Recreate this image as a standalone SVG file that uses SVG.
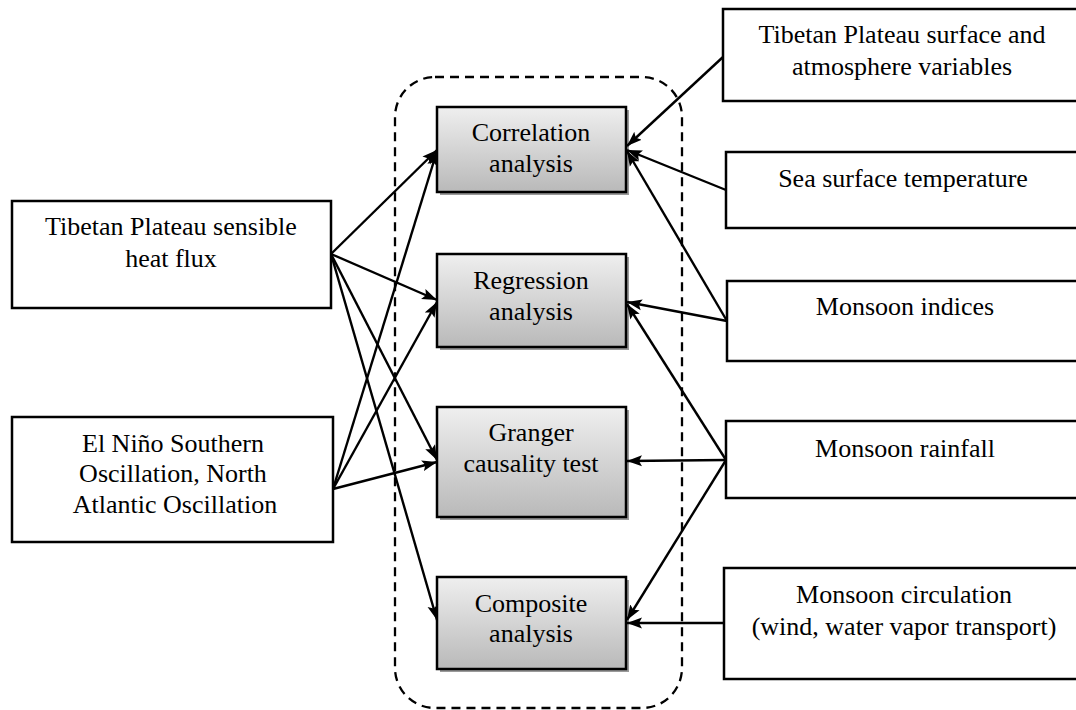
<svg xmlns="http://www.w3.org/2000/svg" width="1076" height="710" viewBox="0 0 1076 710">
  <defs>
    <linearGradient id="methodFill" x1="0" y1="0" x2="0" y2="1">
      <stop offset="0" stop-color="#efefef"/>
      <stop offset="1" stop-color="#b9b9b9"/>
    </linearGradient>
    <marker id="arrow" markerUnits="userSpaceOnUse" markerWidth="16" markerHeight="12" refX="15" refY="6" orient="auto">
      <path d="M0,0.5 L15,6 L0,11.5 L3,6 Z" fill="#000"/>
    </marker>
    <style>
      .box { fill: #fff; stroke: #000; stroke-width: 2.5; }
      .method { fill: url(#methodFill); stroke: #000; stroke-width: 2.5; }
      .shadow { fill: #9a9a9a; }
      .label { font-family: "Liberation Serif", "Tinos", "Noto Serif", "DejaVu Serif", serif; font-size: 26px; fill: #000; text-anchor: middle; }
      .frame { fill: none; stroke: #000; stroke-width: 2.3; stroke-dasharray: 9 6; }
      .link { stroke: #000; stroke-width: 2.4; fill: none; marker-end: url(#arrow); }
    </style>
  </defs>

  <rect width="1076" height="710" fill="#fff"/>

  <!-- dashed frame around the analysis methods -->
  <rect class="frame" x="395" y="77" width="287" height="631" rx="40" ry="40"/>

  <!-- input data, left side -->
  <g id="sensible-heat">
    <rect class="box" x="12" y="201" width="319" height="107"/>
    <text class="label" x="171" y="235">Tibetan Plateau sensible</text>
    <text class="label" x="171" y="267">heat flux</text>
  </g>
  <g id="enso-nao">
    <rect class="box" x="12" y="417" width="321" height="125"/>
    <text class="label" x="173" y="452">El Niño Southern</text>
    <text class="label" x="173" y="482">Oscillation, North</text>
    <text class="label" x="175" y="513">Atlantic Oscillation</text>
  </g>

  <!-- analysis methods -->
  <g id="correlation">
    <rect class="shadow" x="440" y="110" width="189" height="85"/>
    <rect class="method" x="437" y="107" width="189" height="85"/>
    <text class="label" x="531" y="141">Correlation</text>
    <text class="label" x="531" y="172">analysis</text>
  </g>
  <g id="regression">
    <rect class="shadow" x="440" y="257" width="189" height="93"/>
    <rect class="method" x="437" y="254" width="189" height="93"/>
    <text class="label" x="531" y="289">Regression</text>
    <text class="label" x="531" y="320">analysis</text>
  </g>
  <g id="granger">
    <rect class="shadow" x="440" y="410" width="189" height="110"/>
    <rect class="method" x="437" y="407" width="189" height="110"/>
    <text class="label" x="531" y="441">Granger</text>
    <text class="label" x="531" y="472">causality test</text>
  </g>
  <g id="composite">
    <rect class="shadow" x="440" y="580" width="189" height="92"/>
    <rect class="method" x="437" y="577" width="189" height="92"/>
    <text class="label" x="531" y="612">Composite</text>
    <text class="label" x="531" y="642">analysis</text>
  </g>

  <!-- input data, right side -->
  <g id="tp-surface">
    <rect class="box" x="723" y="9" width="362" height="92"/>
    <text class="label" x="902" y="43">Tibetan Plateau surface and</text>
    <text class="label" x="902" y="75">atmosphere variables</text>
  </g>
  <g id="sst">
    <rect class="box" x="726" y="152" width="360" height="76"/>
    <text class="label" x="903" y="187">Sea surface temperature</text>
  </g>
  <g id="monsoon-indices">
    <rect class="box" x="727" y="281" width="360" height="80"/>
    <text class="label" x="905" y="315">Monsoon indices</text>
  </g>
  <g id="monsoon-rainfall">
    <rect class="box" x="726" y="421" width="360" height="77"/>
    <text class="label" x="905" y="457">Monsoon rainfall</text>
  </g>
  <g id="monsoon-circulation">
    <rect class="box" x="724" y="568" width="362" height="111"/>
    <text class="label" x="904" y="603">Monsoon circulation</text>
    <text class="label" x="904" y="635">(wind, water vapor transport)</text>
  </g>

  <!-- connectors -->
  <g id="connectors">
    <line class="link" x1="331" y1="254" x2="437" y2="150"/>
    <line class="link" x1="331" y1="254" x2="437" y2="300"/>
    <line class="link" x1="331" y1="254" x2="437" y2="460"/>
    <line class="link" x1="331" y1="254" x2="437" y2="620"/>
    <line class="link" x1="333" y1="489" x2="437" y2="151"/>
    <line class="link" x1="333" y1="489" x2="437" y2="302"/>
    <line class="link" x1="333" y1="489" x2="437" y2="462"/>
    <line class="link" x1="723" y1="57" x2="627" y2="146"/>
    <line class="link" x1="726" y1="190" x2="627" y2="150"/>
    <line class="link" x1="727" y1="321" x2="627" y2="151"/>
    <line class="link" x1="727" y1="321" x2="627" y2="302"/>
    <line class="link" x1="726" y1="460" x2="627" y2="304"/>
    <line class="link" x1="726" y1="460" x2="627" y2="461"/>
    <line class="link" x1="726" y1="460" x2="627" y2="620"/>
    <line class="link" x1="724" y1="623" x2="627" y2="623"/>
  </g>
</svg>
